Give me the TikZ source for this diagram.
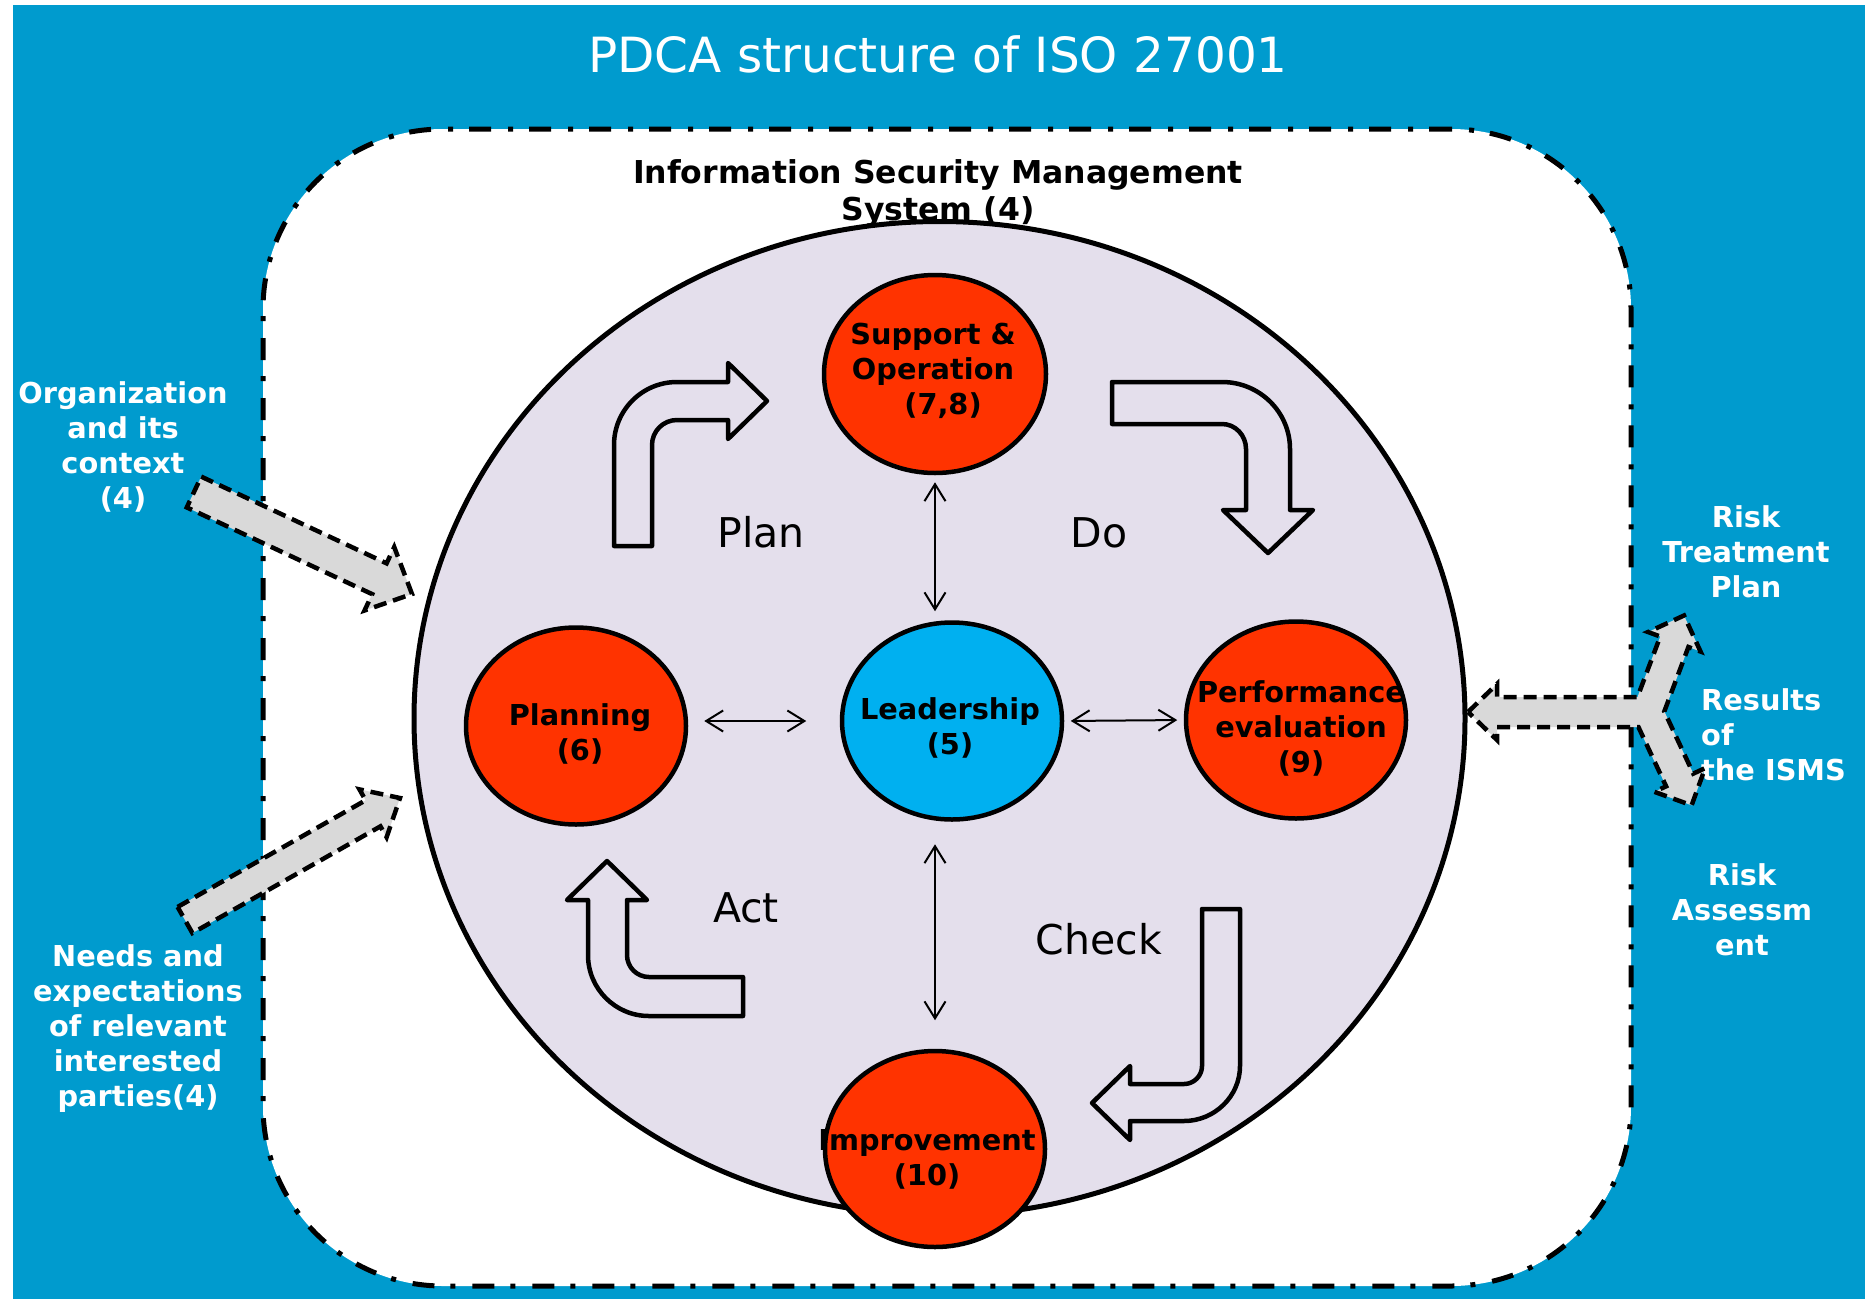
\documentclass[tikz,border=0pt]{standalone}
\usepackage{fontspec}
\setmainfont{DejaVu Sans}
\usetikzlibrary{arrows.meta,calc,shapes.geometric}
\definecolor{bgblue}{RGB}{0,155,206}
\definecolor{lav}{RGB}{228,223,236}
\definecolor{redn}{RGB}{255,51,0}
\definecolor{leadblue}{RGB}{0,176,240}
\definecolor{arrgray}{RGB}{217,217,217}
\tikzset{
 ellnode/.style={ellipse, draw=black, line width=4.5pt, inner sep=0pt, minimum width=220pt, minimum height=197pt},
 rednode/.style={ellnode, fill=redn},
 ntext/.style={font=\fontsize{28.8pt}{35pt}\selectfont\bfseries, align=center, text=black, inner sep=0pt},
 wtext/.style={font=\fontsize{28.8pt}{35pt}\selectfont\bfseries, align=center, text=white, inner sep=0pt},
 phase/.style={font=\fontsize{41pt}{48pt}\selectfont, text=black, inner sep=0pt, anchor=base},
 bent/.style={draw=black, line width=4.5pt, line join=round, fill=lav},
 dbl/.style={{Straight Barb[length=17pt,width=21pt]}-{Straight Barb[length=17pt,width=21pt]}, line width=2pt},
 blockarr/.style={draw=black, fill=arrgray, line width=4.5pt, dash pattern=on 13pt off 7pt, line join=miter},
 ismsbox/.style={draw=black, fill=white, line width=5pt, rounded corners=180pt, dash pattern=on 22pt off 16pt on 5pt off 17pt},
}
\newcommand\blockarrow[5]{%
 \coordinate (hb) at ($(#2)!#5!(#1)$);
 \draw[blockarr] ($(#1)!#3!90:(#2)$) -- ($(hb)!#3!-90:(#1)$) -- ($(hb)!#4!-90:(#1)$) -- (#2)
   -- ($(hb)!#4!90:(#1)$) -- ($(hb)!#3!90:(#1)$) -- ($(#1)!#3!-90:(#2)$) -- cycle;
}
\begin{document}
\begin{tikzpicture}[x=1pt,y=-1pt]
\useasboundingbox (0,0) rectangle (1865,1299);
\fill[white] (0,0) rectangle (1865,1299);
\fill[bgblue] (13,5) rectangle (1865,1299);

\node[font=\fontsize{48.5pt}{56pt}\selectfont, text=white, anchor=base, inner sep=0pt] (title) at (938,72) {PDCA structure of ISO 27001};

\node[ismsbox, minimum width=1368pt, minimum height=1157pt, inner sep=0pt] (isms) at (947,707.5) {};

\node[ellipse, draw=black, fill=lav, line width=5pt, minimum width=1051pt, minimum height=994pt, inner sep=0pt] (cyc) at (939.5,718.5) {};

\node[ntext, font=\fontsize{31.5pt}{36.7pt}\selectfont\bfseries] (ismslbl) at (938,193.5) {Information Security Management\\System (4)};

% bent PDCA arrows
\draw[bent] (614,546) -- (614,445) .. controls (614,410.2) and (642.2,382) .. (677,382) -- (728,382) -- (728,363) -- (767,401) -- (728,439) -- (728,420) -- (677,420) .. controls (663.2,420) and (652,431.2) .. (652,445) -- (652,546) -- cycle;
\draw[bent] (1112,382) -- (1222,382) .. controls (1259.6,382) and (1290,412) .. (1290,449) -- (1290,510) -- (1313,510) -- (1268,553) -- (1223,510) -- (1246,510) -- (1246,449) .. controls (1246,435.2) and (1235.3,424) .. (1222,424) -- (1112,424) -- cycle;
\draw[bent] (607,861) -- (647,900) -- (627,900) -- (627,955) .. controls (627,967.2) and (636.9,977) .. (649,977) -- (743,977) -- (743,1016) -- (649,1016) .. controls (615.3,1016) and (588,988.7) .. (588,955) -- (588,900) -- (567,900) -- cycle;
\draw[bent] (1202,909) -- (1240,909) -- (1240,1066) .. controls (1240,1096.4) and (1214.4,1121) .. (1184,1121) -- (1130,1121) -- (1130,1140) -- (1092,1103) -- (1130,1066) -- (1130,1084) -- (1184,1084) .. controls (1193.9,1084) and (1202,1075.9) .. (1202,1066) -- cycle;

\node[phase] (plan) at (761,547) {Plan};
\node[phase] (do) at (1099,547) {Do};
\node[phase] (act) at (746,922) {Act};
\node[phase] (check) at (1099,954) {Check};

% clause ellipses
\node[rednode, minimum width=222pt, minimum height=198pt,
  label={[ntext, yshift=3pt, xshift=-2pt]center:{Support \&\\Operation\\\hspace*{20pt}(7,8)}}] (sup) at (935,374) {};
\node[rednode, label={[ntext, yshift=-7.5pt, xshift=4pt]center:{Planning\\(6)}}] (plann) at (576,726) {};
\node[ellnode, fill=leadblue, label={[ntext, yshift=-6.5pt, xshift=-2pt]center:{Leadership\\(5)}}] (lead) at (952,721) {};
\node[rednode, label={[ntext, yshift=-8pt, xshift=5pt]center:{Performance\\evaluation\\(9)}}] (perf) at (1296,720) {};
\node[rednode, minimum height=196pt, label={[ntext, yshift=-10pt, xshift=-8pt]center:{Improvement\\(10)}}] (imp) at (935,1149) {};

% double arrows
\draw[dbl, shorten <=7pt, shorten >=9pt] (sup.south) -- (sup.south |- lead.north);
\draw[dbl, shorten <=22.5pt, shorten >=28.5pt] (imp.north |- lead.south) -- (imp.north);
\draw[dbl, shorten <=16pt, shorten >=33.5pt] (plann.east |- lead.west) -- (lead.west);
\draw[dbl, shorten <=6.5pt, shorten >=6.5pt] (lead.east) -- (perf.west);

% outside texts
\node[wtext] (org) at (123,447) {Organization\\and its\\context\\(4)};
\node[wtext] (needs) at (138,1029) {Needs and\\expectations\\of relevant\\interested\\parties(4)};
\node[wtext] (rtp) at (1746,552) {Risk\\Treatment\\Plan};
\node[wtext, align=left, anchor=west] (res) at (1701,735) {Results\\of\\the ISMS};
\node[wtext] (ra) at (1742,910) {Risk\\Assessm\\ent};

% block arrows
\coordinate (orgtail) at (194,492);
\coordinate (orgtip) at (412,594);
\coordinate (needtail) at (185,920);
\coordinate (needtip) at (400,798);
\blockarrow{orgtail}{orgtip}{17pt}{35pt}{36pt}
\blockarrow{needtail}{needtip}{15pt}{27.5pt}{31pt}

% three-way arrow on the right
\draw[blockarr] (1468,712) -- (1497,684) -- (1497,697) -- (1637.5,697) -- (1660.2,636.5) -- (1648,632) -- (1684,615.5) -- (1700.5,651.5) -- (1688.4,647) -- (1664.3,711.4) -- (1693.3,773.6) -- (1705.1,768.1) -- (1691.6,805.3) -- (1654.3,791.8) -- (1666.1,786.3) -- (1638.4,727) -- (1497,727) -- (1497,740) -- cycle;
\end{tikzpicture}
\end{document}
